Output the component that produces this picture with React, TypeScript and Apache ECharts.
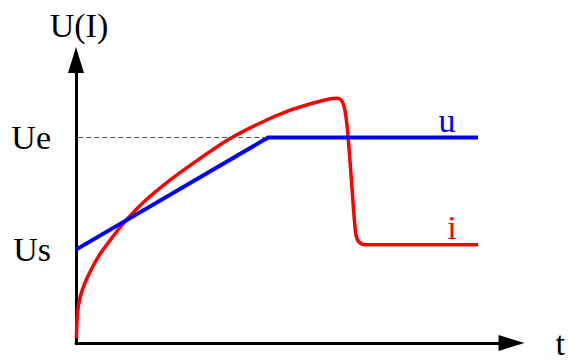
import React, { useEffect, useRef } from "react";
import * as echarts from "echarts";

// Voltage u(t): linear ramp from Us to Ue, then constant
const uTimes = [0, 44.1, 92.3];
const uValues = [33, 72.6, 72.6];

// Current i(t)
const iTimes = [0.1, 0.34, 0.91, 2.05, 3.64, 5.45, 7.73, 11.14, 15.68, 21.36, 28.18, 35.0, 41.8, 48.6, 54.3, 58.4, 60.0, 60.9, 61.6, 62.3, 63.2, 64.2, 64.9, 66.4, 92.3];
const iValues = [1.7, 10.4, 16.0, 21.2, 26.4, 31.25, 36.1, 42.7, 50.0, 57.3, 64.9, 71.9, 77.4, 81.9, 84.7, 86.3, 86.5, 85.8, 83.3, 75.7, 58.3, 38.9, 35.8, 34.7, 34.7];

// Y-axis tick marks
const yTickValues = [33, 72.6];
const yTickLabels = ["Us", "Ue"];

const seriesNames = ["u", "i"];
const axisNames = ["t", "U(I)"];

const FONT = "Liberation Serif";

export default function App() {
  const ref = useRef<HTMLDivElement>(null);

  useEffect(() => {
    if (!ref.current) return;
    const chart = echarts.init(ref.current, undefined, { renderer: "svg" });

    const uData = uTimes.map((t, k) => [t, uValues[k]]);
    const iData = iTimes.map((t, k) => [t, iValues[k]]);

    const endMark = (x: number, y: number, text: string, color: string, dx: number, dy: number) => ({
      silent: true,
      symbol: "circle",
      symbolSize: 0,
      itemStyle: { color: "transparent" },
      label: {
        show: true,
        position: "top",
        distance: 0,
        formatter: text,
        offset: [dx, dy],
        color,
        fontSize: 34,
        fontFamily: FONT,
      },
      data: [{ coord: [x, y] }],
    });

    const axisLine = {
      show: true,
      symbol: ["none", "triangle"],
      symbolSize: [16, 26],
      lineStyle: { color: "#000", width: 3 },
    };

    const nU = uTimes.length - 1;
    const nI = iTimes.length - 1;

    chart.setOption({
      animation: false,
      backgroundColor: "#fff",
      grid: { left: 76, right: 52, top: 60, bottom: 12 },
      xAxis: {
        type: "value",
        min: 0,
        max: 100,
        name: axisNames[0],
        nameLocation: "end",
        nameGap: 44,
        nameTextStyle: { fontSize: 34, fontFamily: FONT, color: "#000" },
        axisLine,
        axisTick: { show: false },
        axisLabel: { show: false },
        splitLine: { show: false },
      },
      yAxis: {
        type: "value",
        min: 0,
        max: 100,
        name: axisNames[1],
        nameLocation: "end",
        nameGap: 18,
        nameTextStyle: { fontSize: 34, fontFamily: FONT, color: "#000", padding: [0, 0, 0, 6] },
        axisLine,
        axisTick: { show: false },
        axisLabel: {
          show: true,
          customValues: yTickValues,
          formatter: (v: number) => {
            const k = yTickValues.findIndex((x) => Math.abs(x - v) < 1e-6);
            return k >= 0 ? yTickLabels[k] : "";
          },
          margin: 25,
          fontSize: 34,
          fontFamily: FONT,
          color: "#000",
        },
        splitLine: { show: false },
      },
      series: [
        {
          name: seriesNames[0],
          type: "line",
          data: uData,
          showSymbol: false,
          symbol: "none",
          lineStyle: { color: "#0000ff", width: 4 },
          itemStyle: { color: "#0000ff" },
          z: 3,
          markLine: {
            silent: true,
            symbol: "none",
            label: { show: false },
            lineStyle: { color: "#555", width: 1, type: [5, 3] },
            data: [[{ coord: [0.5, uValues[1]] }, { coord: [uTimes[1], uValues[1]] }]],
          },
          markPoint: endMark(uTimes[nU], uValues[nU], seriesNames[0], "#0000ff", -31, 0),
        },
        {
          name: seriesNames[1],
          type: "line",
          data: iData,
          showSymbol: false,
          symbol: "none",
          smooth: 0.3,
          lineStyle: { color: "#ff0000", width: 3.5 },
          itemStyle: { color: "#ff0000" },
          z: 2,
          markPoint: endMark(iTimes[nI], iValues[nI], seriesNames[1], "#ff0000", -26, 0),
        },
      ],
    });

    return () => chart.dispose();
  }, []);

  return (
    <div
      ref={ref}
      style={{ position: "fixed", left: 0, top: 0, width: 568, height: 360, background: "#fff" }}
    />
  );
}
